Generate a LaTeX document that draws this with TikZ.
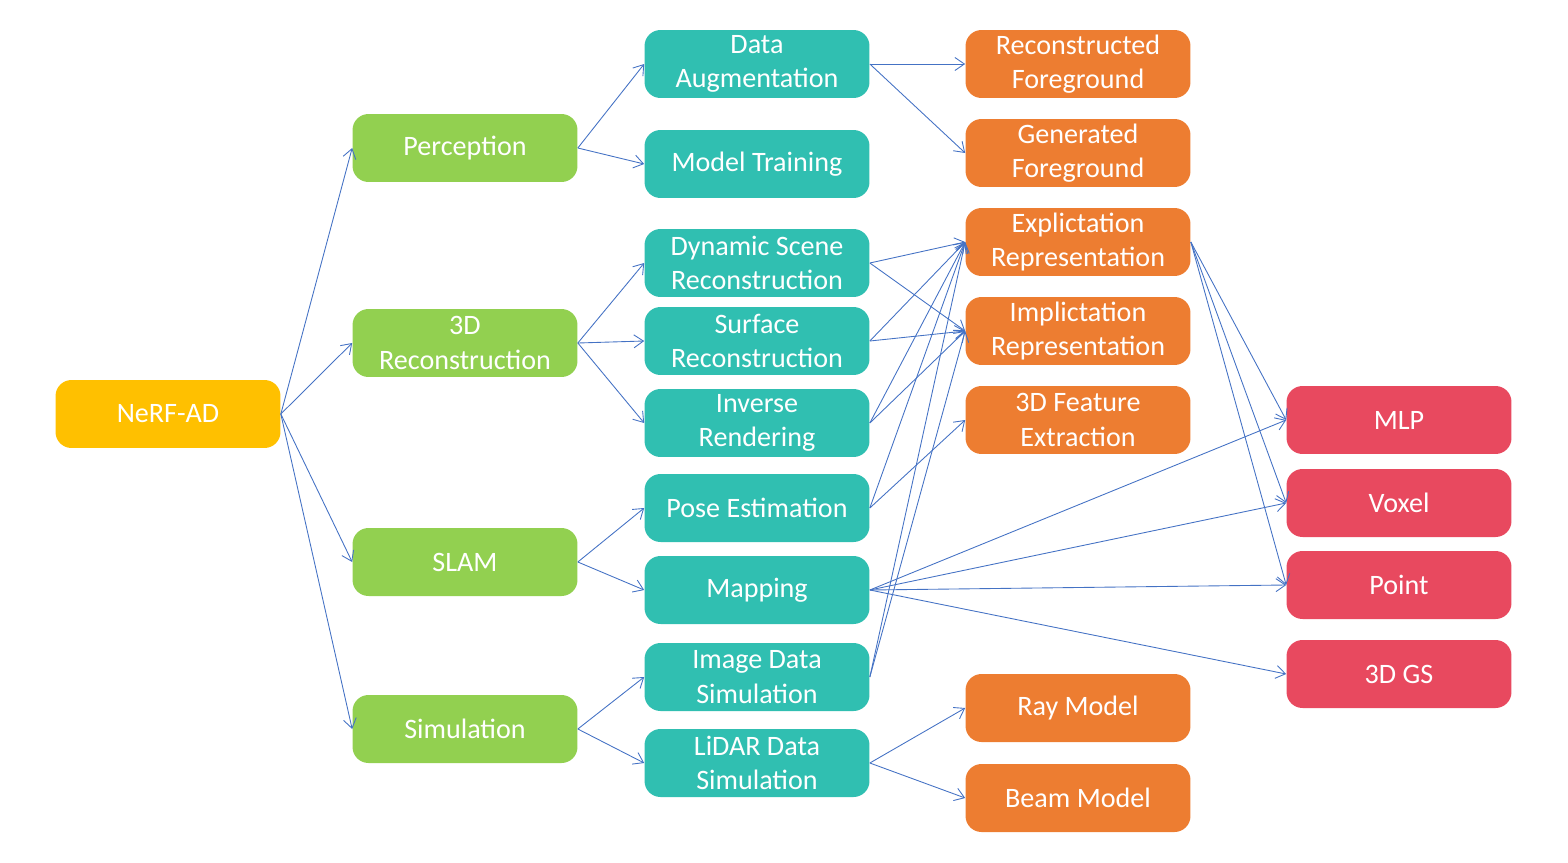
\documentclass[tikz,border=0pt]{standalone}
\usepackage{fontspec}
\setmainfont{Carlito}
\usepackage{xcolor}
\usepackage{tikz}
\usetikzlibrary{positioning,arrows.meta}
\definecolor{rootyellow}{HTML}{FFC000}
\definecolor{leafgreen}{HTML}{92D050}
\definecolor{taskteal}{HTML}{30BFB1}
\definecolor{methodorange}{HTML}{ED7D31}
\definecolor{reprred}{HTML}{E8495F}
\definecolor{linkblue}{HTML}{4472C4}

\begin{document}
\begin{tikzpicture}[x=0.02cm, y=-0.02cm, every node/.style={align=center,text=white,font=\fontsize{16}{19.5}\selectfont},
  box/.style={rounded corners=3.2mm,minimum width=4.5cm,minimum height=1.36cm,inner sep=1pt},
  flow/.style={-{Straight Barb[length=1.9mm,width=2.6mm]},draw=linkblue,line width=.5pt}]
\useasboundingbox (0,0) rectangle (1568,862);
% root
\node[box,fill=rootyellow] (nerf) at (168,414) {NeRF-AD};
% applications
\node[box,fill=leafgreen] (perc) at (465,148) {Perception};
\node[box,fill=leafgreen] (recon) at (465,343) {3D\\Reconstruction};
\node[box,fill=leafgreen] (slam) at (465,562) {SLAM};
\node[box,fill=leafgreen] (sim) at (465,729) {Simulation};
% tasks
\node[box,fill=taskteal] (aug) at (757,64) {Data\\Augmentation};
\node[box,fill=taskteal] (train) at (757,164) {Model Training};
\node[box,fill=taskteal] (dyn) at (757,263) {Dynamic Scene\\Reconstruction};
\node[box,fill=taskteal] (surf) at (757,341) {Surface\\Reconstruction};
\node[box,fill=taskteal] (inv) at (757,423) {Inverse\\Rendering};
\node[box,fill=taskteal] (pose) at (757,508) {Pose Estimation};
\node[box,fill=taskteal] (map) at (757,590) {Mapping};
\node[box,fill=taskteal] (imgsim) at (757,677) {Image Data\\Simulation};
\node[box,fill=taskteal] (lidsim) at (757,763) {LiDAR Data\\Simulation};
% methods
\node[box,fill=methodorange] (recfg) at (1078,64) {Reconstructed\\Foreground};
\node[box,fill=methodorange] (genfg) at (1078,153) {Generated\\Foreground};
\node[box,fill=methodorange] (expl) at (1078,242) {Explictation\\Representation};
\node[box,fill=methodorange] (impl) at (1078,331) {Implictation\\Representation};
\node[box,fill=methodorange] (feat) at (1078,420) {3D Feature\\Extraction};
\node[box,fill=methodorange] (ray) at (1078,708) {Ray Model};
\node[box,fill=methodorange] (beam) at (1078,798) {Beam Model};
% representations
\node[box,fill=reprred] (mlp) at (1399,420) {MLP};
\node[box,fill=reprred] (voxel) at (1399,503) {Voxel};
\node[box,fill=reprred] (point) at (1399,585) {Point};
\node[box,fill=reprred] (gs) at (1399,674) {3D GS};
% links
\foreach \t in {perc,recon,slam,sim} \draw[flow] (nerf.east) -- (\t.west);
\draw[flow] (perc.east) -- (aug.west); \draw[flow] (perc.east) -- (train.west);
\foreach \t in {dyn,surf,inv} \draw[flow] (recon.east) -- (\t.west);
\draw[flow] (slam.east) -- (pose.west); \draw[flow] (slam.east) -- (map.west);
\draw[flow] (sim.east) -- (imgsim.west); \draw[flow] (sim.east) -- (lidsim.west);
\draw[flow] (aug.east) -- (recfg.west); \draw[flow] (aug.east) -- (genfg.west);
\foreach \s in {dyn,surf,inv,imgsim} {\draw[flow] (\s.east) -- (expl.west); \draw[flow] (\s.east) -- (impl.west);}
\draw[flow] (pose.east) -- (expl.west); \draw[flow] (pose.east) -- (feat.west);
\foreach \t in {mlp,voxel,point,gs} \draw[flow] (map.east) -- (\t.west);
\foreach \t in {mlp,voxel,point} \draw[flow] (expl.east) -- (\t.west);
\draw[flow] (lidsim.east) -- (ray.west); \draw[flow] (lidsim.east) -- (beam.west);
\end{tikzpicture}
\end{document}
